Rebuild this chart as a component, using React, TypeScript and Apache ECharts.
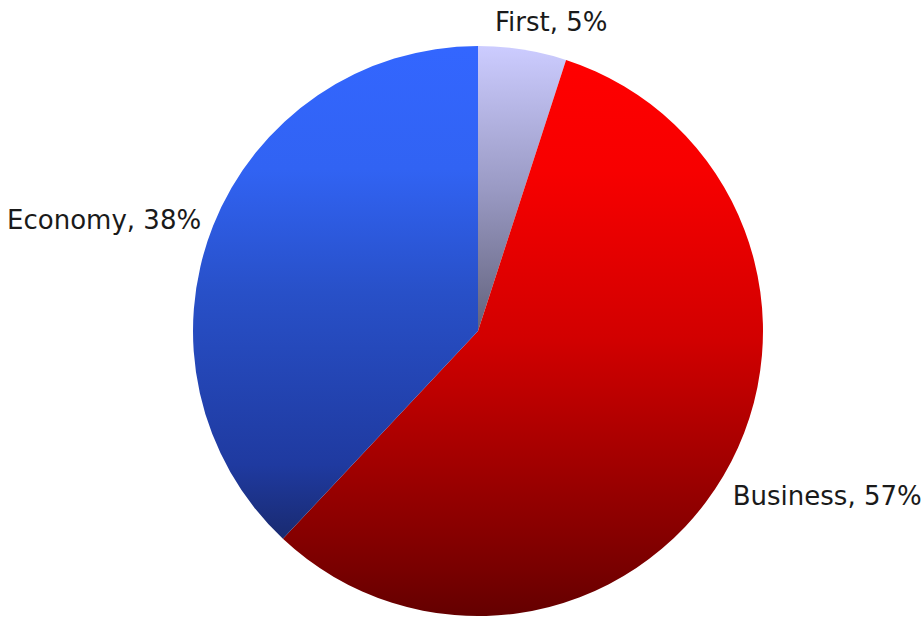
import React, { useEffect, useRef } from "react";
import * as echarts from "echarts";

const categories = ["First", "Business", "Economy"];
const values = [5, 57, 38];
const gradientStops = [
  [
    [0, "#ccccff"],
    [0.5, "#9a9ac4"],
    [1, "#62627c"],
  ],
  [
    [0, "#ff0000"],
    [0.2, "#f70000"],
    [0.5, "#d20000"],
    [0.92, "#780000"],
    [1, "#640000"],
  ],
  [
    [0, "#3366ff"],
    [0.25, "#3163f3"],
    [0.5, "#2850c8"],
    [0.85, "#1f3aa0"],
    [1, "#192a70"],
  ],
];
const labelLengths = [28, 40, 16];
const labelLengths2 = [-37, -30, -8];

export default function App() {
  const ref = useRef<HTMLDivElement>(null);
  useEffect(() => {
    const chart = echarts.init(ref.current!, null, { renderer: "svg" });
    const data = categories.map((name, i) => ({
      name,
      value: values[i],
      itemStyle: {
        color: new echarts.graphic.LinearGradient(
          0,
          0,
          0,
          1,
          gradientStops[i].map(([offset, color]) => ({ offset: offset as number, color: color as string }))
        ),
      },
      labelLine: { show: false, length: labelLengths[i], length2: labelLengths2[i] },
    }));
    chart.setOption({
      animation: false,
      backgroundColor: "#ffffff",
      series: [
        {
          type: "pie",
          center: [478, 331],
          radius: [0, 285],
          startAngle: 90,
          clockwise: true,
          avoidLabelOverlap: false,
          data,
          itemStyle: { borderWidth: 0 },
          label: {
            show: true,
            position: "outside",
            formatter: (p: any) => `${p.name}, ${p.value}%`,
            fontFamily: "DejaVu Sans",
            fontSize: 26,
            color: "#1a1a1a",
          },
          labelLine: { show: false },
          emphasis: { disabled: true },
        },
      ],
    });
    return () => chart.dispose();
  }, []);
  return (
    <div
      ref={ref}
      style={{ position: "fixed", left: 0, top: 0, width: 921, height: 621 }}
    />
  );
}
